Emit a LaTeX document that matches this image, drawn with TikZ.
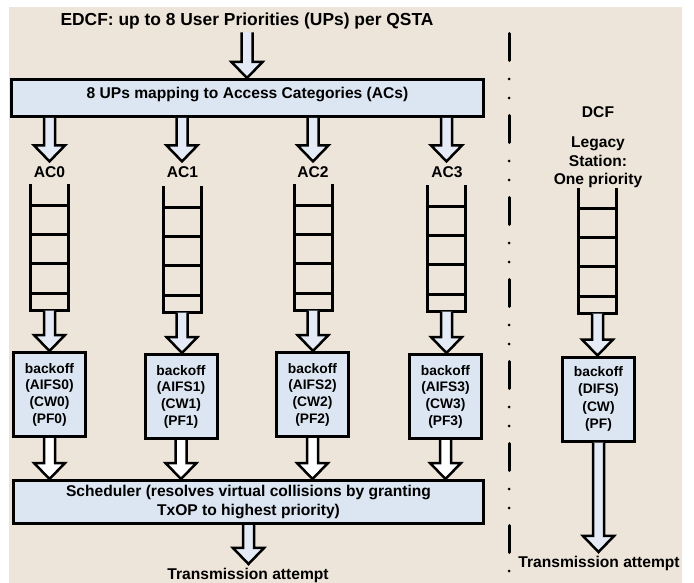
\documentclass[tikz,border=0pt]{standalone}
\usepackage{fontspec}
\setmainfont{Liberation Sans}
\usetikzlibrary{calc}
\definecolor{bgbeige}{RGB}{237,229,217}
\definecolor{boxblue}{RGB}{220,230,242}
\definecolor{arrblue}{RGB}{228,235,246}

\newcommand{\barrow}[3][arrfill]{%
  \path[blockarr,#1] let \p1=#2, \p2=#3 in
    (\x1-5.5pt,\y1) -- (\x1-5.5pt,\y2+16pt) -- (\x1-15.5pt,\y2+16pt) -- (\x1,\y2)
    -- (\x1+15.5pt,\y2+16pt) -- (\x1+5.5pt,\y2+16pt) -- (\x1+5.5pt,\y1);}

\newcommand{\queuedraw}[1]{%
  \draw[qline] (#1.north west) -- (#1.south west) -- (#1.south east) -- (#1.north east);
  \foreach \f in {0.166,0.395,0.625,0.862}{%
    \draw[qline] ($(#1.north west)!\f!(#1.south west)$) -- ($(#1.north east)!\f!(#1.south east)$);}}

\begin{document}
\begin{tikzpicture}[x=1pt,y=-1pt,
  boxst/.style={draw, line width=3pt, fill=boxblue, inner sep=0pt},
  bstyle/.style={boxst, minimum width=72pt, minimum height=84pt, align=center,
    font=\bfseries\fontsize{13.8}{16.7}\selectfont},
  qnode/.style={draw=none, minimum width=38pt, inner sep=0pt, outer sep=0pt},
  qline/.style={line width=3pt},
  blockarr/.style={draw, line width=2.5pt, line join=miter},
  arrfill/.style={fill=arrblue},
  arrwhite/.style={fill=white},
  lbl/.style={inner sep=0pt, font=\bfseries\fontsize{15.6}{18.5}\selectfont},
  titlest/.style={inner sep=0pt, font=\bfseries\fontsize{17.4}{20}\selectfont},
  sepline/.style={line width=3pt, line cap=round,
    dash pattern=on 27pt off 18.5pt on 0pt off 19pt on 0pt off 17.5pt}
]
\useasboundingbox (0,0) rectangle (694,583);
\fill[bgbeige] (9,7) rectangle (682,583);

% title and mapping box
\node[titlest, anchor=base] (title) at (247,25.5) {EDCF: up to 8 User Priorities (UPs) per QSTA};
\node[boxst, minimum width=472pt, minimum height=37pt, text height=11pt, text depth=9pt,
  font=\bfseries\fontsize{15.6}{17}\selectfont] (map) at (247.5,98)
  {8 UPs mapping to Access Categories (ACs)};

% AC labels
\node[lbl, anchor=base] (ac0) at (49.5,177.5) {AC0};
\node[lbl, anchor=base] (ac1) at (182.5,177.5) {AC1};
\node[lbl, anchor=base] (ac2) at (313,177.5) {AC2};
\node[lbl, anchor=base] (ac3) at (447,177.5) {AC3};

% queues
\node[qnode, minimum height=126.5pt] (q0) at (49.5,247.3) {};
\node[qnode, minimum height=126.5pt] (q1) at (182,249.3) {};
\node[qnode, minimum height=126.5pt] (q2) at (313,247.3) {};
\node[qnode, minimum height=126.5pt] (q3) at (446.5,248.3) {};
\node[qnode, minimum height=125.5pt] (dq) at (597.5,250.8) {};
\queuedraw{q0}\queuedraw{q1}\queuedraw{q2}\queuedraw{q3}\queuedraw{dq}

% backoff boxes
\node[bstyle] (b0) at (49.5,394.5) {backoff\\(AIFS0)\\(CW0)\\(PF0)};
\node[bstyle] (b1) at (181,396.5) {backoff\\(AIFS1)\\(CW1)\\(PF1)};
\node[bstyle] (b2) at (312.5,394.5) {backoff\\(AIFS2)\\(CW2)\\(PF2)};
\node[bstyle] (b3) at (445.5,396.5) {backoff\\(AIFS3)\\(CW3)\\(PF3)};
\node[bstyle, font=\bfseries\fontsize{13.8}{17.3}\selectfont] (db) at (598.5,399) {backoff\\(DIFS)\\(CW)\\(PF)};

% scheduler
\node[boxst, minimum width=470pt, minimum height=43pt, align=center,
  font=\bfseries\fontsize{15.6}{19}\selectfont] (sched) at (248.5,502)
  {Scheduler (resolves virtual collisions by granting\\TxOP to highest priority)};

% transmission labels
\node[lbl, anchor=base] (tx) at (248,579.5) {Transmission attempt};
\node[lbl, anchor=base] (dtx) at (599,567.5) {Transmission attempt};

% DCF labels
\node[lbl, anchor=base] (dcf) at (598,117.5) {DCF};
\node[lbl, align=center] (legacy) at (598,162.5) {Legacy\\Station:\\One priority};

% separator
\coordinate (sepA) at (509,33.5);
\coordinate (sepB) at (509,578);
\draw[sepline] (sepA) -- (sepB);

% block arrows
\barrow{([yshift=-3pt]title.south)}{(map.north)}
\foreach \i in {0,1,2,3}{%
  \barrow{(map.south -| q\i.north)}{([yshift=5pt]ac\i.north -| q\i.north)}
  \barrow{(q\i.south)}{(b\i.north)}
  \barrow[arrwhite]{(b\i.south)}{(b\i.south |- sched.north)}
}
\barrow{(sched.south)}{([yshift=4pt]tx.north)}
\barrow{(dq.south)}{(db.north)}
\barrow{(db.south)}{([yshift=4pt]dtx.north -| db.south)}
\end{tikzpicture}
\end{document}
